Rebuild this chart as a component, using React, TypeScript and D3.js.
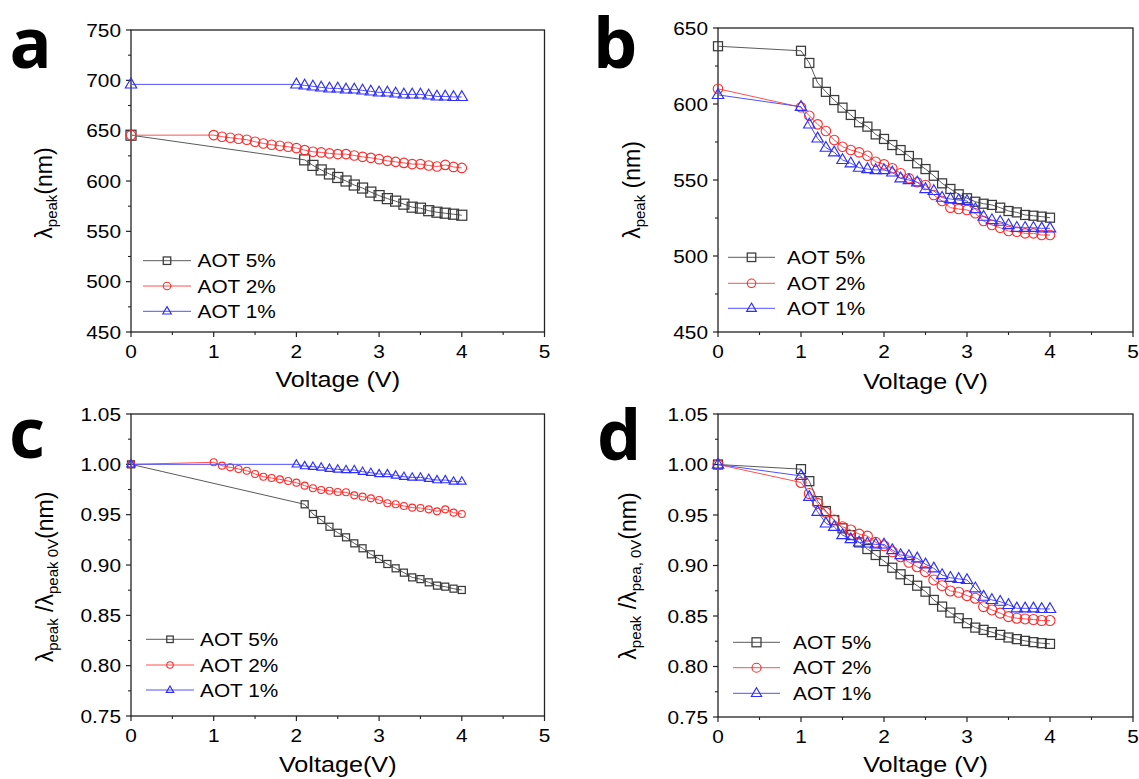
import React from 'react';
import * as d3 from 'd3';

// ---------- DATA ----------
const seriesNames = ['AOT 5%', 'AOT 2%', 'AOT 1%'];
const xTickLabels = [0, 1, 2, 3, 4, 5];

// Panel a / c voltages
const voltsA5 = [0, 2.1, 2.2, 2.3, 2.4, 2.5, 2.6, 2.7, 2.8, 2.9, 3.0, 3.1, 3.2, 3.3, 3.4, 3.5, 3.6, 3.7, 3.8, 3.9, 4.0];
const voltsA2 = [0, 1.0, 1.1, 1.2, 1.3, 1.4, 1.5, 1.6, 1.7, 1.8, 1.9, 2.0, 2.1, 2.2, 2.3, 2.4, 2.5, 2.6, 2.7, 2.8, 2.9, 3.0, 3.1, 3.2, 3.3, 3.4, 3.5, 3.6, 3.7, 3.8, 3.9, 4.0];
const voltsA1 = [0, 2.0, 2.1, 2.2, 2.3, 2.4, 2.5, 2.6, 2.7, 2.8, 2.9, 3.0, 3.1, 3.2, 3.3, 3.4, 3.5, 3.6, 3.7, 3.8, 3.9, 4.0];
// Panel b / d voltages
const voltsB = [0, 1.0, 1.1, 1.2, 1.3, 1.4, 1.5, 1.6, 1.7, 1.8, 1.9, 2.0, 2.1, 2.2, 2.3, 2.4, 2.5, 2.6, 2.7, 2.8, 2.9, 3.0, 3.1, 3.2, 3.3, 3.4, 3.5, 3.6, 3.7, 3.8, 3.9, 4.0];

// Panel a: peak wavelength (nm)
const peakA5 = [645.5, 621, 615.5, 611, 607, 603.5, 600, 596, 593, 589, 585.5, 582.5, 580, 577, 574, 573, 570.5, 569, 568, 567, 566];
const peakA2 = [645.5, 645.6, 644, 643, 642, 641, 639, 637.3, 636, 635, 634, 632.7, 630.7, 629, 628.4, 627.4, 626.7, 626.7, 625.4, 624, 623, 621.7, 620, 619, 618, 616.8, 616.8, 615.4, 614.4, 616, 614, 613];
const peakA1 = [696, 696, 695, 694, 693, 692, 692, 691, 691, 690, 689, 688, 688, 687, 686, 686, 686, 685, 684, 684, 683.5, 683.5];

// Panel b: peak wavelength (nm)
const peakB5 = [638, 635, 627, 614, 608, 602.6, 597.6, 592.8, 588, 585.1, 580, 577, 573, 569.7, 565.8, 561, 557.2, 552.8, 547.8, 544.1, 540.6, 538, 535.7, 534.4, 533.6, 531.8, 529.6, 528.7, 527, 526.5, 525.9, 525.2];
const peakB2 = [610, 597.9, 592.3, 586.6, 582.2, 576.3, 571.9, 569.7, 568.2, 566, 562, 560.3, 557.7, 554.4, 551.1, 548.5, 546.7, 540.1, 536.2, 531.8, 530.9, 530.3, 528.1, 523, 520.4, 518.6, 516.4, 516, 514.9, 514.9, 513.8, 513.8];
const peakB1 = [606, 598.2, 586.6, 577.4, 571.3, 568.2, 563.2, 561, 558.1, 557.2, 556.6, 556.6, 555, 551.1, 550, 548.5, 544.1, 542.8, 538.4, 537.5, 536.8, 536.2, 530.9, 525.9, 523.7, 522.6, 520.4, 518.6, 518.6, 518.6, 518.2, 518.2];

// Panel c: normalised
const ratioC5 = [1.0, 0.9603, 0.9507, 0.9447, 0.938, 0.932, 0.9275, 0.9215, 0.9166, 0.9106, 0.906, 0.901, 0.8967, 0.8924, 0.8877, 0.886, 0.8828, 0.8795, 0.8785, 0.8765, 0.8752];
const ratioC2 = [1.0, 1.002, 0.9987, 0.997, 0.9954, 0.9937, 0.9904, 0.9877, 0.9864, 0.9851, 0.9834, 0.9818, 0.9788, 0.9762, 0.9745, 0.9738, 0.9725, 0.9722, 0.9692, 0.9679, 0.9662, 0.9646, 0.9613, 0.9603, 0.9586, 0.957, 0.9566, 0.9553, 0.9533, 0.9553, 0.952, 0.9507];
const ratioC1 = [1.0, 1.0, 0.9983, 0.9977, 0.997, 0.9957, 0.995, 0.9944, 0.9944, 0.9927, 0.9917, 0.9904, 0.9904, 0.989, 0.9877, 0.987, 0.987, 0.9857, 0.9844, 0.9844, 0.983, 0.983];

// Panel d: normalised
const ratioD5 = [1.0, 0.9954, 0.9835, 0.9637, 0.9539, 0.945, 0.9368, 0.9301, 0.9229, 0.9163, 0.9104, 0.9044, 0.8978, 0.8913, 0.8857, 0.88, 0.8741, 0.8659, 0.8593, 0.8534, 0.8478, 0.8429, 0.8385, 0.8363, 0.834, 0.8313, 0.8287, 0.8271, 0.8254, 0.8241, 0.8231, 0.8224];
const ratioD2 = [1.0, 0.9822, 0.9713, 0.9615, 0.9526, 0.945, 0.9383, 0.9351, 0.9311, 0.9291, 0.9229, 0.9196, 0.9136, 0.9087, 0.9032, 0.8988, 0.8939, 0.8857, 0.88, 0.8748, 0.8735, 0.8702, 0.8676, 0.8593, 0.856, 0.8528, 0.8494, 0.8478, 0.8471, 0.8465, 0.8455, 0.8455];
const ratioD1 = [1.0, 0.9887, 0.968, 0.9532, 0.9417, 0.9383, 0.9301, 0.9262, 0.9229, 0.9219, 0.9209, 0.9209, 0.9153, 0.9104, 0.9094, 0.9071, 0.9012, 0.8972, 0.8906, 0.8879, 0.8867, 0.8857, 0.8775, 0.8692, 0.8659, 0.8642, 0.861, 0.8576, 0.8576, 0.8576, 0.857, 0.857];

// ---------- STYLE ----------
const markerColors = ['#3a3a3a', '#ff2a2a', '#2e2eff'];
const lineColors = ['#5a5a5a', '#ff5050', '#5050ff'];
const shapes = ['square', 'circle', 'triangle'];
const FONT = '"Liberation Sans", Arial, sans-serif';
const SX = 1.12;
const AXIS = '#222';

type Seg = { t: string; sub?: boolean };

const panels = [
  {
    letter: 'a', letterX: 9.5, letterY: 68,
    left: 131, right: 544.5, top: 30, bottom: 332,
    yDomain: [450, 750], fmt: d3.format('d'),
    xs: [voltsA5, voltsA2, voltsA1], ys: [peakA5, peakA2, peakA1],
    msize: [10, 9.5, 10],
    legend: { x0: 143, x1: 191, tx: 197.5, rows: [260.7, 286, 311.3], m: 7.5 },
    yTitle: { x: 52, y: 193, segs: [{ t: 'λ' }, { t: 'peak', sub: true }, { t: '(nm)' }] as Seg[] },
    xTitle: 'Voltage (V)', xTitleY: 387,
  },
  {
    letter: 'b', letterX: 593, letterY: 68,
    left: 718, right: 1133, top: 28, bottom: 332,
    yDomain: [450, 650], fmt: d3.format('d'),
    xs: [voltsB, voltsB, voltsB], ys: [peakB5, peakB2, peakB1],
    msize: [9, 9.5, 10],
    legend: { x0: 728, x1: 775, tx: 787, rows: [257.3, 283.3, 308.3], m: 8.5 },
    yTitle: { x: 639.5, y: 190, segs: [{ t: 'λ' }, { t: 'peak', sub: true }, { t: ' (nm)' }] as Seg[] },
    xTitle: 'Voltage (V)', xTitleY: 389,
  },
  {
    letter: 'c', letterX: 9, letterY: 458,
    left: 131, right: 544.5, top: 414, bottom: 716,
    yDomain: [0.75, 1.05], fmt: d3.format('.2f'),
    xs: [voltsA5, voltsA2, voltsA1], ys: [ratioC5, ratioC2, ratioC1],
    msize: [7, 7, 7.5],
    legend: { x0: 146, x1: 194, tx: 200, rows: [639.3, 665, 690], m: 6.5 },
    yTitle: { x: 52.5, y: 577, segs: [{ t: 'λ' }, { t: 'peak', sub: true }, { t: ' /' }, { t: 'λ' }, { t: 'peak 0V', sub: true }, { t: '(nm)' }] as Seg[] },
    xTitle: 'Voltage(V)', xTitleY: 772,
  },
  {
    letter: 'd', letterX: 597, letterY: 460,
    left: 718, right: 1133, top: 414, bottom: 717,
    yDomain: [0.75, 1.05], fmt: d3.format('.2f'),
    xs: [voltsB, voltsB, voltsB], ys: [ratioD5, ratioD2, ratioD1],
    msize: [9, 10, 10],
    legend: { x0: 733, x1: 780, tx: 793, rows: [642.3, 667.7, 693.3], m: 9 },
    yTitle: { x: 636, y: 576, segs: [{ t: 'λ' }, { t: 'peak', sub: true }, { t: ' /' }, { t: 'λ' }, { t: 'pea, 0V', sub: true }, { t: '(nm)' }] as Seg[] },
    xTitle: 'Voltage (V)', xTitleY: 772,
  },
];

function Marker({ shape, cx, cy, s, color }: { shape: string; cx: number; cy: number; s: number; color: string }) {
  if (shape === 'square') {
    return <rect x={cx - s / 2} y={cy - s / 2} width={s} height={s} fill="none" stroke={color} strokeWidth={1.25} />;
  }
  if (shape === 'circle') {
    return <circle cx={cx} cy={cy} r={s / 2} fill="none" stroke={color} strokeWidth={1.1} />;
  }
  const pts = [[cx, cy - 0.62 * s], [cx + 0.57 * s, cy + 0.36 * s], [cx - 0.57 * s, cy + 0.36 * s]];
  return <polygon points={pts.map((p) => p.join(',')).join(' ')} fill="none" stroke={color} strokeWidth={1.15} />;
}

function STxt({ x, y, anchor, size, children }: any) {
  return (
    <text transform={`translate(${x},${y}) scale(${SX},1)`} textAnchor={anchor} fontSize={size} fontFamily={FONT} fill="#000">
      {children}
    </text>
  );
}

function Panel({ p }: { p: (typeof panels)[number] }) {
  const x = d3.scaleLinear().domain([0, 5]).range([p.left, p.right]);
  const y = d3.scaleLinear().domain(p.yDomain).range([p.bottom, p.top]);
  const majorY = y.ticks(6);
  const minorY = majorY.slice(0, -1).map((v, i) => (v + majorY[i + 1]) / 2);
  const majorX = xTickLabels;
  const minorX = majorX.slice(0, -1).map((v, i) => (v + majorX[i + 1]) / 2);
  const line = d3.line<[number, number]>().x((d) => x(d[0])).y((d) => y(d[1]));
  const cxm = (p.left + p.right) / 2;

  return (
    <g>
      <text x={p.letterX} y={p.letterY} fontFamily='"Open Sans", "DejaVu Sans", sans-serif' fontWeight={700} fontSize={70} fill="#000">
        {p.letter}
      </text>
      {/* frame */}
      <rect x={p.left} y={p.top} width={p.right - p.left} height={p.bottom - p.top} fill="none" stroke={AXIS} strokeWidth={1.3} />
      {/* y ticks */}
      {majorY.map((v) => (
        <g key={'my' + v}>
          <line x1={p.left - 5} x2={p.left} y1={y(v)} y2={y(v)} stroke={AXIS} strokeWidth={1.2} />
          <STxt x={p.left - 10} y={y(v) + 6.6} anchor="end" size={18.6}>{p.fmt(v)}</STxt>
        </g>
      ))}
      {minorY.map((v) => (
        <line key={'ny' + v} x1={p.left - 3} x2={p.left} y1={y(v)} y2={y(v)} stroke={AXIS} strokeWidth={1.1} />
      ))}
      {/* x ticks */}
      {majorX.map((v) => (
        <g key={'mx' + v}>
          <line x1={x(v)} x2={x(v)} y1={p.bottom} y2={p.bottom + 5} stroke={AXIS} strokeWidth={1.2} />
          <STxt x={x(v)} y={p.bottom + 26} anchor="middle" size={18.6}>{String(v)}</STxt>
        </g>
      ))}
      {minorX.map((v) => (
        <line key={'nx' + v} x1={x(v)} x2={x(v)} y1={p.bottom} y2={p.bottom + 3} stroke={AXIS} strokeWidth={1.1} />
      ))}
      {/* axis titles */}
      <STxt x={cxm} y={p.xTitleY} anchor="middle" size={22.5}>{p.xTitle}</STxt>
      <text transform={`translate(${p.yTitle.x},${p.yTitle.y}) rotate(-90)`} textAnchor="middle" fontSize={23} fontFamily={FONT} fill="#000">
        {p.yTitle.segs.map((s, i) => {
          const prevSub = i > 0 && p.yTitle.segs[i - 1].sub;
          const dy = s.sub ? 5 : prevSub ? -5 : 0;
          return (
            <tspan key={i} dy={dy} fontSize={s.sub ? 15 : 23}>
              {s.t}
            </tspan>
          );
        })}
      </text>
      {/* series */}
      {p.ys.map((vals, si) => {
        const pts = vals.map((v, i) => [p.xs[si][i], v] as [number, number]);
        return (
          <g key={'s' + si}>
            <path d={line(pts) || ''} fill="none" stroke={lineColors[si]} strokeWidth={1} />
            {pts.map((d, i) => (
              <Marker key={i} shape={shapes[si]} cx={x(d[0])} cy={y(d[1])} s={p.msize[si]} color={markerColors[si]} />
            ))}
          </g>
        );
      })}
      {/* legend */}
      {seriesNames.map((name, si) => {
        const ly = p.legend.rows[si];
        return (
          <g key={'l' + si}>
            <line x1={p.legend.x0} x2={p.legend.x1} y1={ly} y2={ly} stroke={lineColors[si]} strokeWidth={1} />
            <Marker shape={shapes[si]} cx={(p.legend.x0 + p.legend.x1) / 2} cy={ly} s={p.legend.m} color={markerColors[si]} />
            <STxt x={p.legend.tx} y={ly + 6.6} anchor="start" size={18.6}>{name}</STxt>
          </g>
        );
      })}
    </g>
  );
}

export default function App() {
  return (
    <svg width={1139} height={779} style={{ position: 'absolute', left: 0, top: 0, background: '#fff' }}>
      <rect width={1139} height={779} fill="#fff" />
      {panels.map((p) => (
        <Panel key={p.letter} p={p} />
      ))}
    </svg>
  );
}
